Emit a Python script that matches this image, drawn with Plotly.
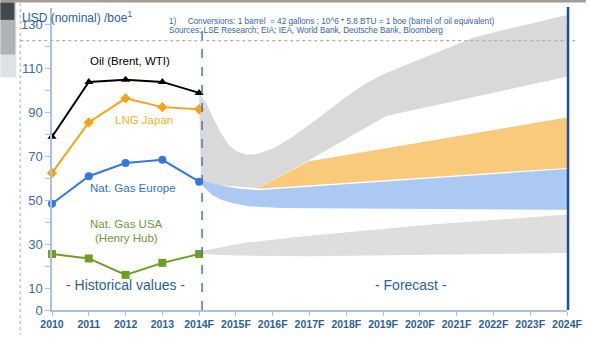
import plotly.graph_objects as go

# ---- historical prices (USD nominal per boe) ----
years_hist = [2010, 2011, 2012, 2013, 2014]
oil = [79, 104, 105, 104, 99]
lng_japan = [62.5, 85.5, 96.5, 92.5, 91.5]
gas_europe = [48.5, 61, 67, 68.5, 58.5]
gas_usa = [25.5, 23.5, 16, 21.5, 25.5]

# ---- forecast corridors (upper / lower bounds) ----
oil_hi_x = [2014.0, 2014.2, 2014.4, 2014.6, 2014.8, 2015.0, 2015.3, 2015.6, 2016.0,
            2016.5, 2017.0, 2017.5, 2017.9, 2018.5, 2019.0, 2019.8, 2021.5, 2024.0]
oil_hi = [99, 94, 87, 80.5, 75.5, 72.5, 70.8, 71.2, 73.5,
          78.5, 84.5, 91, 96, 103, 107.5, 113, 124.5, 134.5]
oil_lo_x = [2014.05, 2014.5, 2015.6, 2016.96, 2019.1, 2024.0]
oil_lo = [59.5, 57, 55.5, 68, 88.6, 106.3]

lng_hi_x = [2015.6, 2016.96, 2024.0]
lng_hi = [55.5, 67.7, 87.8]
lng_lo_x = [2015.6, 2024.0]
lng_lo = [55.3, 64.8]

eur_hi_x = [2014.05, 2014.4, 2014.7, 2015.1, 2015.6, 2024.0]
eur_hi = [59.5, 57.6, 56.4, 55.3, 54.6, 64.3]
eur_lo_x = [2014.05, 2014.2, 2014.35, 2014.6, 2014.9, 2015.35, 2016.2, 2024.0]
eur_lo = [57.5, 55, 52.5, 50.3, 48.8, 47.3, 46.5, 45.7]

usa_hi_x = [2014.05, 2015.2, 2016.7, 2020.3, 2024.0]
usa_hi = [26.8, 30.5, 33.4, 39, 43.5]
usa_lo_x = [2014.05, 2015.0, 2017.0, 2024.0]
usa_lo = [25.5, 24.8, 24.5, 26]

tick_years = list(range(2010, 2025))
tick_labels = ["2010", "2011", "2012", "2013"] + [f"{y}F" for y in range(2014, 2025)]
y_ticks = list(range(0, 131, 10))
y_labels = [str(v) if v in (0, 10, 30, 50, 70, 90, 110, 130) else " " for v in y_ticks]

FONT = "Liberation Sans, Arial, sans-serif"
BLUE_TXT = "#2f5f98"

W, H = 590, 338
ML, MR, MT, MB = 52, 19, 8, 25
PW, PH = W - ML - MR, H - MT - MB


def px(x):
    return (x - ML) / PW


def py(y):
    return (H - MB - y) / PH


def band(xs_hi, hi, xs_lo, lo, color, name):
    return go.Scatter(
        x=list(xs_hi) + list(xs_lo)[::-1],
        y=list(hi) + list(lo)[::-1],
        fill="toself", fillcolor=color, mode="lines",
        line=dict(width=0, color=color), hoverinfo="skip",
        showlegend=False, name=name,
    )


fig = go.Figure()
fig.add_trace(band(oil_hi_x, oil_hi, oil_lo_x, oil_lo, "#d9d9d9", "Oil forecast"))
fig.add_trace(band(lng_hi_x, lng_hi, lng_lo_x, lng_lo, "#f9c97c", "LNG forecast"))
fig.add_trace(band(eur_hi_x, eur_hi, eur_lo_x, eur_lo, "#abc9f3", "Europe forecast"))
fig.add_trace(band(usa_hi_x, usa_hi, usa_lo_x, usa_lo, "#dedede", "USA forecast"))

series = [
    (oil, "#000000", "triangle-up", 8, "Oil (Brent, WTI)"),
    (lng_japan, "#f7a21b", "diamond", 8, "LNG Japan"),
    (gas_europe, "#3577e5", "circle", 8, "Nat. Gas Europe"),
    (gas_usa, "#6f9e22", "square", 8, "Nat. Gas USA"),
]
for vals, col, sym, size, name in series:
    fig.add_trace(go.Scatter(
        x=years_hist, y=vals, mode="lines+markers", name=name,
        line=dict(color=col, width=2),
        marker=dict(symbol=sym, size=size, color=col),
        cliponaxis=False, showlegend=False,
    ))

shapes = [
    # frame decorations
    dict(type="rect", xref="paper", yref="paper", x0=px(0), x1=px(W), y0=py(0), y1=py(2.5),
         fillcolor="#a59c94", line=dict(width=0)),
    dict(type="rect", xref="paper", yref="paper", x0=px(0), x1=px(16), y0=py(2.5), y1=py(78),
         fillcolor="#d2d5d8", line=dict(width=0), opacity=0.7),
    dict(type="rect", xref="paper", yref="paper", x0=px(0), x1=px(15), y0=py(2.5), y1=py(55),
         fillcolor="#8e959b", line=dict(width=0), opacity=0.6),
    dict(type="rect", xref="paper", yref="paper", x0=px(0), x1=px(14), y0=py(2.5), y1=py(20),
         fillcolor="#30353a", line=dict(width=0), opacity=0.85),
    dict(type="line", xref="paper", yref="paper", x0=px(20), x1=px(20), y0=py(3), y1=py(H),
         line=dict(color="#b9b9b9", width=1.2, dash="dot")),
    dict(type="line", xref="paper", yref="paper", x0=px(20), x1=px(582), y0=py(41), y1=py(41),
         line=dict(color="#b0b0b0", width=1.2, dash="dot")),
    # historical / forecast divider
    dict(type="line", xref="x", yref="paper", x0=2014.08, x1=2014.08, y0=0, y1=py(30),
         line=dict(color="#4a77b0", width=1.5, dash="dash")),
    # right boundary
    dict(type="line", xref="paper", yref="paper", x0=1.002, x1=1.002, y0=0, y1=py(7),
         line=dict(color="#1f4e96", width=2.5)),
]

ann = []


def text(x, y, s, color, size, xanchor="center"):
    ann.append(dict(x=px(x), y=py(y), xref="paper", yref="paper", text=s, showarrow=False,
                    font=dict(family=FONT, size=size, color=color), xanchor=xanchor))


text(20, 6.5, "USD (nominal) /boe<sup>1</sup>", BLUE_TXT, 12, "left")
text(168, 15, "1)&nbsp;&nbsp;&nbsp;&nbsp; Conversions: 1 barrel&nbsp; = 42 gallons ; 10^6 * 5.8 BTU = 1 boe (barrel of oil equivalent)",
     "#3566a6", 8.2, "left")
text(168, 24, "Sources: LSE Research; EIA; IEA, World Bank, Deutsche Bank, Bloomberg",
     "#3566a6", 8.2, "left")
text(131, 53, "Oil (Brent, WTI)", "#000000", 11.5)
text(145, 121, "LNG Japan", "#f5b22f", 11.5)
text(134, 190, "Nat. Gas Europe", "#2f72d8", 11.5)
text(127, 234, "Nat. Gas USA", "#6c9a3c", 11.5)
text(127, 248, "(Henry Hub)", "#6c9a3c", 11.5)
text(126, 298, "- Historical values -", BLUE_TXT, 14)
text(414, 298, "- Forecast -", BLUE_TXT, 14)

fig.update_layout(
    width=W, height=H,
    margin=dict(l=ML, r=MR, t=MT, b=MB),
    paper_bgcolor="white", plot_bgcolor="white",
    shapes=shapes, annotations=ann,
    xaxis=dict(
        range=[2010, 2024], tickvals=tick_years, ticktext=tick_labels,
        showgrid=False, zeroline=False, showline=True, linecolor="#a9c1de", linewidth=1.5,
        ticks="outside", ticklen=4, tickcolor="#a9c1de",
        tickfont=dict(family=FONT, size=10.5, color=BLUE_TXT, weight="bold"),
    ),
    yaxis=dict(
        range=[0, 137.7], tickvals=y_ticks, ticktext=y_labels,
        showgrid=False, zeroline=False, showline=True, linecolor="#a9c1de", linewidth=1.5,
        ticks="outside", ticklen=5, tickcolor="#a9c1de",
        tickfont=dict(family=FONT, size=13, color="#3f6aa0"),
    ),
)

fig.write_html("out.html")
